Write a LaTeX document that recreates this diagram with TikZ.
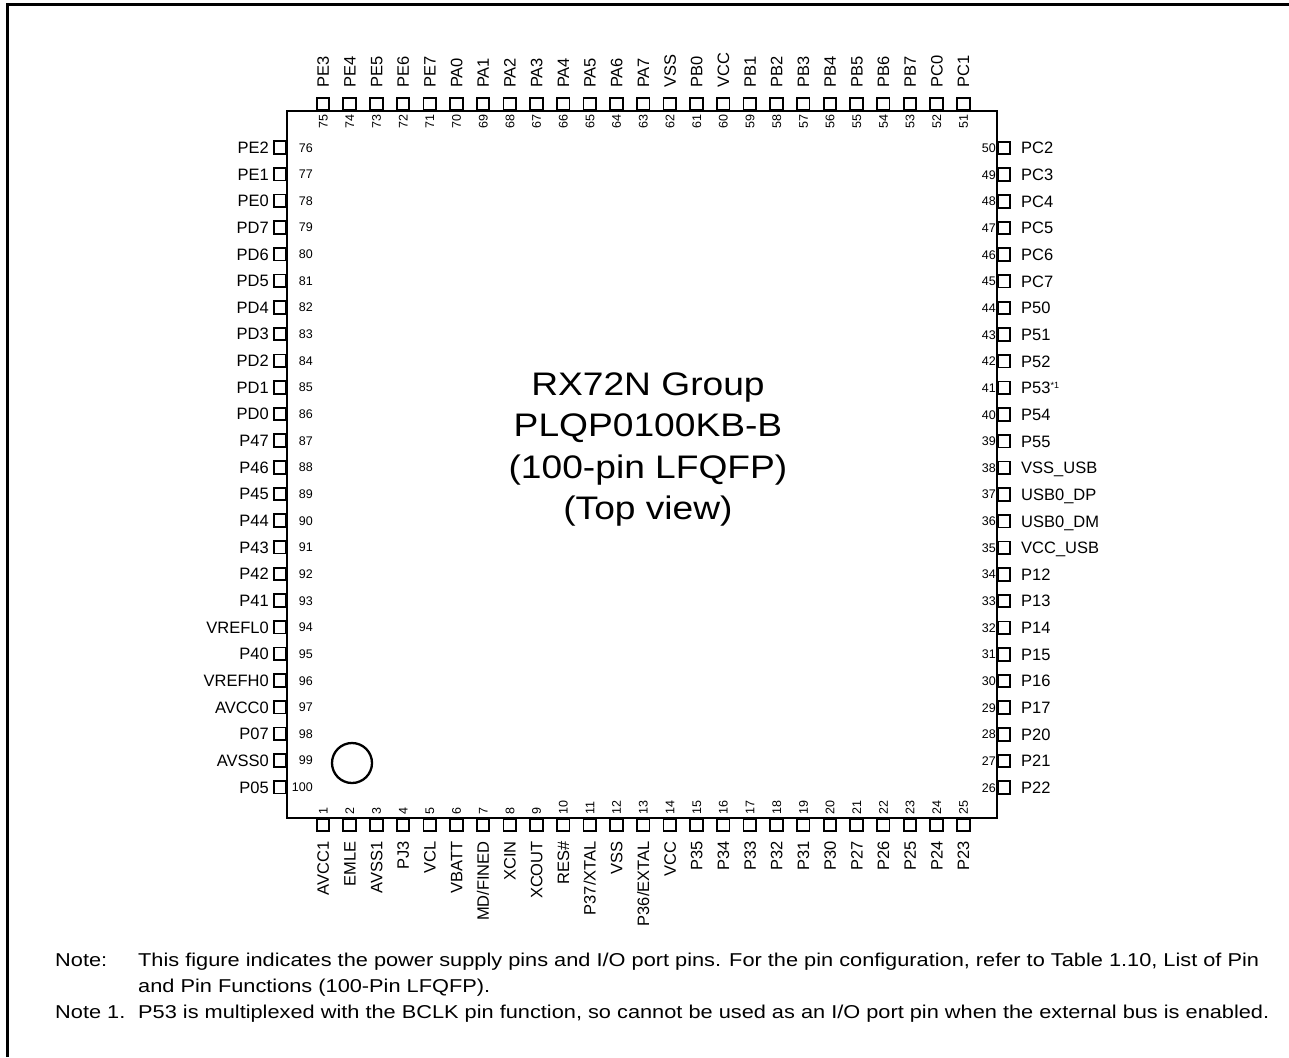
\documentclass[tikz,border=0pt]{standalone}
\usepackage{fontspec}
\setmainfont{Liberation Sans}
\begin{document}
\begin{tikzpicture}[x=1pt,y=-1pt,
  pinsq/.style={draw,line width=1.8pt,minimum size=12.6pt,inner sep=0pt,outer sep=0pt},
  pname/.style={inner sep=0pt,font=\fontsize{16.5}{18}\selectfont,text height=11.8pt,text depth=0pt},
  pnum/.style={inner sep=0pt,font=\fontsize{12.5}{14}\selectfont,text height=9pt,text depth=0pt},
  ttl/.style={inner sep=0pt,anchor=base,font=\fontsize{32.6}{40}\selectfont},
  note/.style={inner sep=0pt,anchor=base west,font=\fontsize{18.6}{22}\selectfont}]
\newcommand{\wideT}[1]{\scalebox{1.14}[1]{#1}}
\newcommand{\wideN}[1]{\scalebox{1.17}[1]{#1}}
\useasboundingbox (0,0) rectangle (1289,1057);
% frame
\draw[line width=3pt] (7,1057) -- (7,5) -- (1289,5);
% chip body
\node[draw,line width=2.2pt,minimum width=710pt,minimum height=707pt,inner sep=0pt] (body) at (642,464.5) {};
% pin 1 mark
\node[draw,circle,line width=2.3pt,minimum size=40pt,inner sep=0pt] (mark) at (352,763) {};
% top pins 75..51
\foreach \nm [count=\i from 0] in {PE3,PE4,PE5,PE6,PE7,PA0,PA1,PA2,PA3,PA4,PA5,PA6,PA7,VSS,PB0,VCC,PB1,PB2,PB3,PB4,PB5,PB6,PB7,PC0,PC1}{
  \pgfmathsetmacro{\xx}{323+\i*26.68}
  \pgfmathtruncatemacro{\n}{75-\i}
  \node[pinsq] (p\n) at (\xx,104) {};
  \node[pname,rotate=90,anchor=west] (n\n) at (\xx,88) {\nm};
  \node[pnum,rotate=90,anchor=east] (k\n) at (\xx,114) {\n};
}
% bottom pins 1..25
\foreach \nm [count=\i from 0] in {AVCC1,EMLE,AVSS1,PJ3,VCL,VBATT,MD/FINED,XCIN,XCOUT,RES\#,P37/XTAL,VSS,P36/EXTAL,VCC,P35,P34,P33,P32,P31,P30,P27,P26,P25,P24,P23}{
  \pgfmathsetmacro{\xx}{323+\i*26.68}
  \pgfmathtruncatemacro{\n}{1+\i}
  \node[pinsq] (p\n) at (\xx,825) {};
  \node[pname,rotate=90,anchor=east] (n\n) at (\xx,841) {\nm};
  \node[pnum,rotate=90,anchor=west] (k\n) at (\xx,815) {\n};
}
% left pins 76..100
\foreach \nm [count=\i from 0] in {PE2,PE1,PE0,PD7,PD6,PD5,PD4,PD3,PD2,PD1,PD0,P47,P46,P45,P44,P43,P42,P41,VREFL0,P40,VREFH0,AVCC0,P07,AVSS0,P05}{
  \pgfmathsetmacro{\yy}{147.5+\i*26.65}
  \pgfmathtruncatemacro{\n}{76+\i}
  \node[pinsq] (p\n) at (280,\yy) {};
  \node[pname,anchor=east] (n\n) at (269,\yy) {\nm};
  \node[pnum,anchor=east] (k\n) at (313,\yy) {\n};
}
% right pins 50..26
\foreach \nm [count=\i from 0] in {PC2,PC3,PC4,PC5,PC6,PC7,P50,P51,P52,{P53\raisebox{5.5pt}{\fontsize{9}{9}\selectfont *1}},P54,P55,VSS\_USB,USB0\_DP,USB0\_DM,VCC\_USB,P12,P13,P14,P15,P16,P17,P20,P21,P22}{
  \pgfmathsetmacro{\yy}{148+\i*26.65}
  \pgfmathtruncatemacro{\n}{50-\i}
  \node[pinsq] (p\n) at (1004,\yy) {};
  \node[pname,anchor=west] (n\n) at (1021,\yy) {\nm};
  \node[pnum,anchor=east] (k\n) at (996,\yy) {\n};
}
% title
\node[ttl] (t1) at (648,395) {\wideT{RX72N Group}};
\node[ttl] (t2) at (648,436.5) {\wideT{PLQP0100KB-B}};
\node[ttl] (t3) at (648,478) {\wideT{(100-pin LFQFP)}};
\node[ttl] (t4) at (648,519.5) {\wideT{(Top view)}};
% notes
\node[note] (nt1) at (55,966) {\wideN{Note:}};
\node[note] (nt1b) at (138,966) {\wideN{This figure indicates the power supply pins and I/O port pins. For the pin configuration, refer to Table 1.10, List of Pin}};
\node[note] (nt2) at (138,992) {\wideN{and Pin Functions (100-Pin LFQFP).}};
\node[note] (nt3) at (55,1018) {\wideN{Note 1.}};
\node[note] (nt3b) at (138,1018) {\wideN{P53 is multiplexed with the BCLK pin function, so cannot be used as an I/O port pin when the external bus is enabled.}};
\end{tikzpicture}
\end{document}
